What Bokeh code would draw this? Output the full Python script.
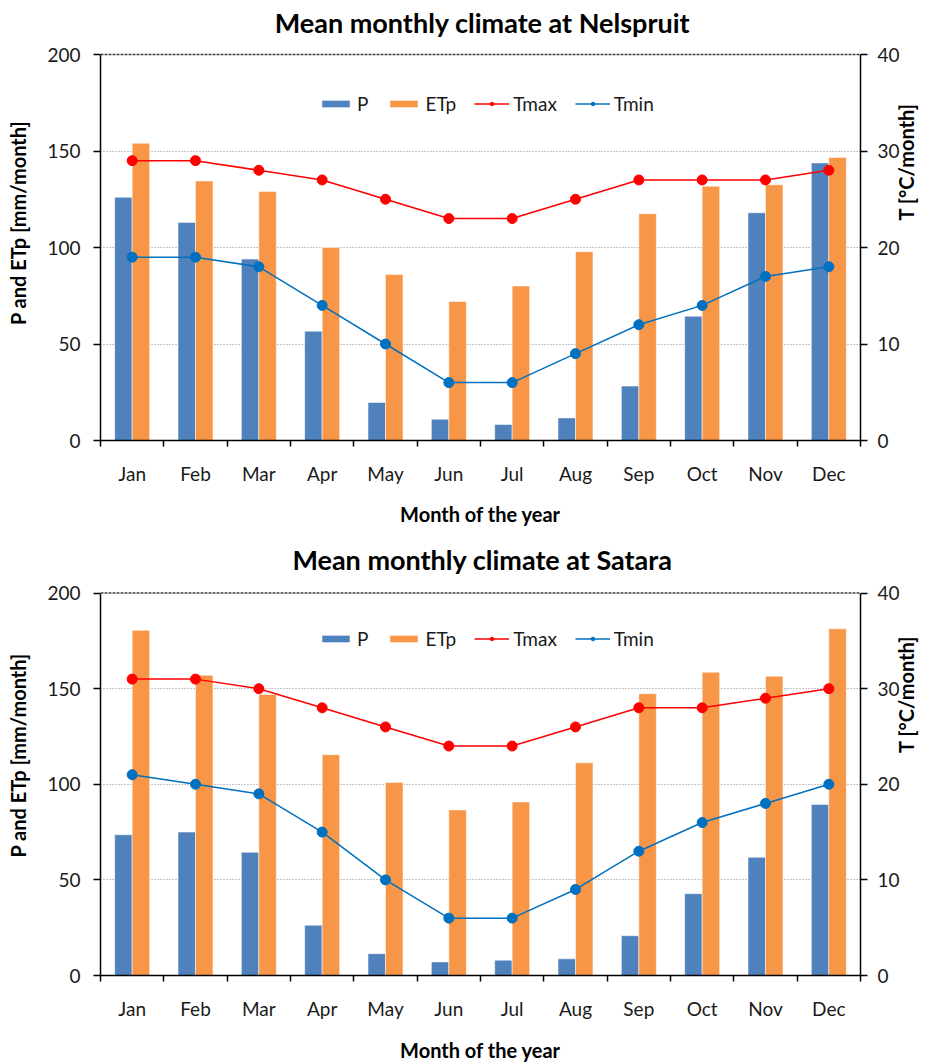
import math
import numpy as np
from bokeh.plotting import figure
from bokeh.models import (Range1d, LinearAxis, FixedTicker, Legend, LegendItem,
                          Span, ColumnDataSource, Grid, Label)
from bokeh.layouts import column
from bokeh.embed import file_html
from bokeh.resources import INLINE

months = ["Jan", "Feb", "Mar", "Apr", "May", "Jun", "Jul", "Aug", "Sep", "Oct", "Nov", "Dec"]

nel_P = [126, 113, 94, 56.6, 19.7, 11, 8.3, 11.7, 28.2, 64.4, 118, 143.8]
nel_ETp = [154, 134.5, 129, 100, 86, 72, 80, 97.8, 117.5, 131.7, 132.5, 146.6]
nel_Tmax = [29, 29, 28, 27, 25, 23, 23, 25, 27, 27, 27, 28]
nel_Tmin = [19, 19, 18, 14, 10, 6, 6, 9, 12, 14, 17, 18]

sat_P = [73.6, 75, 64.4, 26.3, 11.4, 7.1, 8, 8.7, 20.8, 42.8, 61.8, 89.4]
sat_ETp = [180.5, 157, 147, 115.5, 101, 86.6, 90.7, 111.2, 147.4, 158.6, 156.5, 181.3]
sat_Tmax = [31, 31, 30, 28, 26, 24, 24, 26, 28, 28, 29, 30]
sat_Tmin = [21, 20, 19, 15, 10, 6, 6, 9, 13, 16, 18, 20]

left_ticks = [0, 50, 100, 150, 200]
right_ticks = [0, 10, 20, 30, 40]
P_MAX = 200
T_MAX = 40

FONT = "Lato"
C_P = "#4F81BD"
C_E = "#F79646"
C_MAX = "#FF0000"
C_MIN = "#0070C0"
TXT = "#1a1a1a"


def make_chart(title, P, ETp, Tmax, Tmin, height, b_bottom, plot_h, top_pad,
               title_gap, xtitle_standoff, legend_y):
    n = len(months)
    xc = np.arange(n) + 0.5
    bw = 0.276
    frame_h = plot_h + top_pad
    k = frame_h / plot_h
    src = ColumnDataSource(dict(xP=xc - bw / 2, xE=xc + bw / 2, xc=xc,
                                P=P, ETp=ETp, Tmax=Tmax, Tmin=Tmin))
    p = figure(width=933, height=height, x_range=Range1d(0, n),
               y_range=Range1d(0, P_MAX * k),
               output_backend="svg", toolbar_location=None,
               min_border_left=100, min_border_right=73,
               min_border_top=0, min_border_bottom=b_bottom,
               outline_line_color=None, x_axis_type=None, y_axis_type=None)
    p.extra_y_ranges = {"T": Range1d(0, T_MAX * k)}

    # title
    p.add_layout(Label(x=382, y=plot_h + title_gap, x_units="screen", y_units="screen",
                       text=title, text_font=FONT, text_font_size="27px",
                       text_font_style="bold", text_color="#000000",
                       text_align="center", text_baseline="middle"))

    # x axis: labels at month centres, ticks at month boundaries
    xax = LinearAxis(ticker=FixedTicker(ticks=list(xc), minor_ticks=list(range(n + 1))))
    xax.major_label_overrides = {float(v): m for v, m in zip(xc, months)}
    xax.major_tick_out = 0
    xax.major_tick_in = 0
    xax.minor_tick_out = 6
    xax.minor_tick_in = 0
    xax.minor_tick_line_color = "#000000"
    xax.minor_tick_line_width = 1.5
    xax.axis_line_color = "#000000"
    xax.axis_line_width = 1.5
    xax.major_label_text_font = FONT
    xax.major_label_text_font_size = "19px"
    xax.major_label_text_color = TXT
    xax.major_label_standoff = 15
    xax.axis_label = "Month of the year"
    xax.axis_label_text_font = FONT
    xax.axis_label_text_font_size = "20px"
    xax.axis_label_text_font_style = "bold"
    xax.axis_label_text_color = "#000000"
    xax.axis_label_standoff = xtitle_standoff
    p.add_layout(xax, "below")

    # left axis
    yax = LinearAxis(ticker=FixedTicker(ticks=left_ticks), bounds=(0, P_MAX))
    yax.major_tick_out = 7
    yax.major_tick_in = 0
    yax.minor_tick_out = 0
    yax.minor_tick_in = 0
    yax.major_tick_line_color = "#000000"
    yax.major_tick_line_width = 1.5
    yax.axis_line_color = "#000000"
    yax.axis_line_width = 1.5
    yax.major_label_text_font = FONT
    yax.major_label_text_font_size = "19px"
    yax.major_label_text_color = TXT
    yax.major_label_standoff = 13
    yax.axis_label = "P and ETp  [mm/month]"
    yax.axis_label_text_font = FONT
    yax.axis_label_text_font_size = "20px"
    yax.axis_label_text_font_style = "bold"
    yax.axis_label_text_color = "#000000"
    yax.axis_label_standoff = 14
    p.add_layout(yax, "left")

    # right axis
    rax = LinearAxis(y_range_name="T", ticker=FixedTicker(ticks=right_ticks), bounds=(0, T_MAX))
    rax.major_tick_out = 7
    rax.major_tick_in = 0
    rax.minor_tick_out = 0
    rax.minor_tick_in = 0
    rax.major_tick_line_color = "#000000"
    rax.major_tick_line_width = 1.5
    rax.axis_line_color = "#000000"
    rax.axis_line_width = 1.5
    rax.major_label_text_font = FONT
    rax.major_label_text_font_size = "19px"
    rax.major_label_text_color = TXT
    rax.major_label_standoff = 10
    rax.axis_label = "T [°C/month]"
    rax.axis_label_text_font = FONT
    rax.axis_label_text_font_size = "20px"
    rax.axis_label_text_font_style = "bold"
    rax.axis_label_text_color = "#000000"
    rax.axis_label_standoff = 3
    if "axis_label_orientation" in LinearAxis.properties():
        rax.axis_label_orientation = math.pi / 2
    p.add_layout(rax, "right")

    # grid
    g = Grid(dimension=1, ticker=FixedTicker(ticks=[50, 100, 150]),
             grid_line_color="#8c8c8c", grid_line_dash="1 2", grid_line_width=1)
    p.add_layout(g)
    p.add_layout(Span(location=P_MAX, dimension="width", line_color="#404040",
                      line_width=1.5, line_dash="3 1"))

    rP = p.vbar(x="xP", top="P", width=bw, source=src, fill_color=C_P,
                line_color="#ffffff", line_alpha=0.5, line_width=1)
    rE = p.vbar(x="xE", top="ETp", width=bw, source=src, fill_color=C_E,
                line_color="#ffffff", line_alpha=0.5, line_width=1)
    lmax = p.line(x="xc", y="Tmax", source=src, y_range_name="T", line_color=C_MAX, line_width=1.5)
    smax = p.scatter(x="xc", y="Tmax", source=src, y_range_name="T", size=10,
                     fill_color=C_MAX, line_color=C_MAX)
    lmin = p.line(x="xc", y="Tmin", source=src, y_range_name="T", line_color=C_MIN, line_width=1.5)
    smin = p.scatter(x="xc", y="Tmin", source=src, y_range_name="T", size=10,
                     fill_color=C_MIN, line_color=C_MIN)

    legend = Legend(items=[
        LegendItem(label="P", renderers=[rP]),
        LegendItem(label="ETp", renderers=[rE]),
        LegendItem(label="Tmax", renderers=[lmax, smax]),
        LegendItem(label="Tmin", renderers=[lmin, smin]),
    ], orientation="horizontal", location=(218, legend_y),
        border_line_color=None, background_fill_alpha=0,
        label_text_font=FONT, label_text_font_size="19px", label_text_color=TXT,
        glyph_width=35, glyph_height=9, label_height=9, label_width=8,
        spacing=18, label_standoff=4, padding=0, margin=0)
    p.add_layout(legend)
    return p


p1 = make_chart("Mean monthly climate at Nelspruit", nel_P, nel_ETp, nel_Tmax, nel_Tmin,
                530, 90, 386, 54, 32, 14, 325)
p2 = make_chart("Mean monthly climate at Satara", sat_P, sat_ETp, sat_Tmax, sat_Tmin,
                534, 86, 385, 63, 31, 15, 325)

layout = column(p1, p2)
open("out.html", "w").write(file_html(layout, INLINE))
